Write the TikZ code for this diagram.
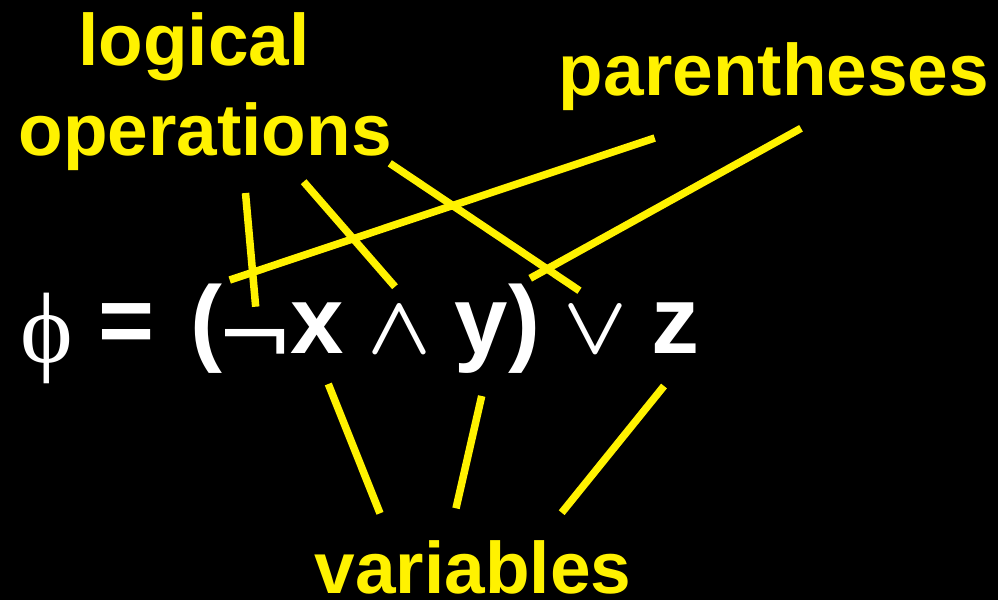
\documentclass[tikz,border=0pt]{standalone}
\usepackage{fontspec}
\usepackage{graphicx}
\setmainfont{Liberation Sans}
\newfontfamily\symfont{DejaVu Sans}
\newfontfamily\phifont{Liberation Serif}
\begin{document}
\begin{tikzpicture}[x=1pt,y=-1pt,
  lbl/.style={text=yellow, inner sep=0pt, anchor=base, font=\fontsize{73}{80}\selectfont\bfseries},
  frm/.style={text=white, inner sep=0pt, anchor=base, font=\fontsize{96}{100}\selectfont\bfseries},
  opsym/.style={text=white, inner sep=0pt, anchor=base, font=\fontsize{80}{90}\selectfont\symfont},
  mathop/.style={text=white, inner sep=0pt, anchor=base, font=\boldmath},
  pointer/.style={draw=yellow, line width=7.5pt, line cap=butt}]
\useasboundingbox (0,0) rectangle (998,600);
\fill[black] (0,0) rectangle (998,600);
% labels
\node[lbl] (logical) at (194,65) {logical};
\node[lbl] (operations) at (205,155) {operations};
\node[lbl] (parentheses) at (774,95) {parentheses};
\node[lbl] (variables) at (473,593) {variables};
% formula
\node[text=white, inner sep=0pt, anchor=base, font=\fontsize{100}{110}\selectfont\phifont] (phi) at (47,362) {ϕ};
\node[frm] (eq) at (126.5,353) {=};
\node[frm] (lp) at (206.5,353) {(};
\node[opsym] (neg) at (255,366) {\scalebox{1.18}[1.1]{¬}};
\node[frm] (vx) at (317.5,353) {x};
\node[mathop] (and) at (399.5,353) {\resizebox{64pt}{46pt}{$\wedge$}};
\node[frm] (vy) at (481,353) {y};
\node[frm] (rp) at (524,353) {)};
\node[mathop] (or) at (596,353) {\resizebox{64pt}{46pt}{$\vee$}};
\node[frm] (vz) at (675.5,353) {z};
% connector ends
\coordinate (l1a) at (245.5,193); \coordinate (l1b) at (255.7,306.7);
\coordinate (l2a) at (303.6,181.7); \coordinate (l2b) at (395,286.7);
\coordinate (l3a) at (389.8,163.3); \coordinate (l3b) at (579.5,290.7);
\coordinate (p1a) at (654.7,138); \coordinate (p1b) at (229.7,280);
\coordinate (p2a) at (801,128.3); \coordinate (p2b) at (530.2,278.3);
\coordinate (v1a) at (328.3,384); \coordinate (v1b) at (380,513.3);
\coordinate (v2a) at (481.7,396); \coordinate (v2b) at (456,508.3);
\coordinate (v3a) at (664,386); \coordinate (v3b) at (561.7,512.7);
\draw[pointer] (l1a) -- (l1b);
\draw[pointer] (l2a) -- (l2b);
\draw[pointer] (l3a) -- (l3b);
\draw[pointer] (p1a) -- (p1b);
\draw[pointer] (p2a) -- (p2b);
\draw[pointer] (v1a) -- (v1b);
\draw[pointer] (v2a) -- (v2b);
\draw[pointer] (v3a) -- (v3b);
\end{tikzpicture}
\end{document}
